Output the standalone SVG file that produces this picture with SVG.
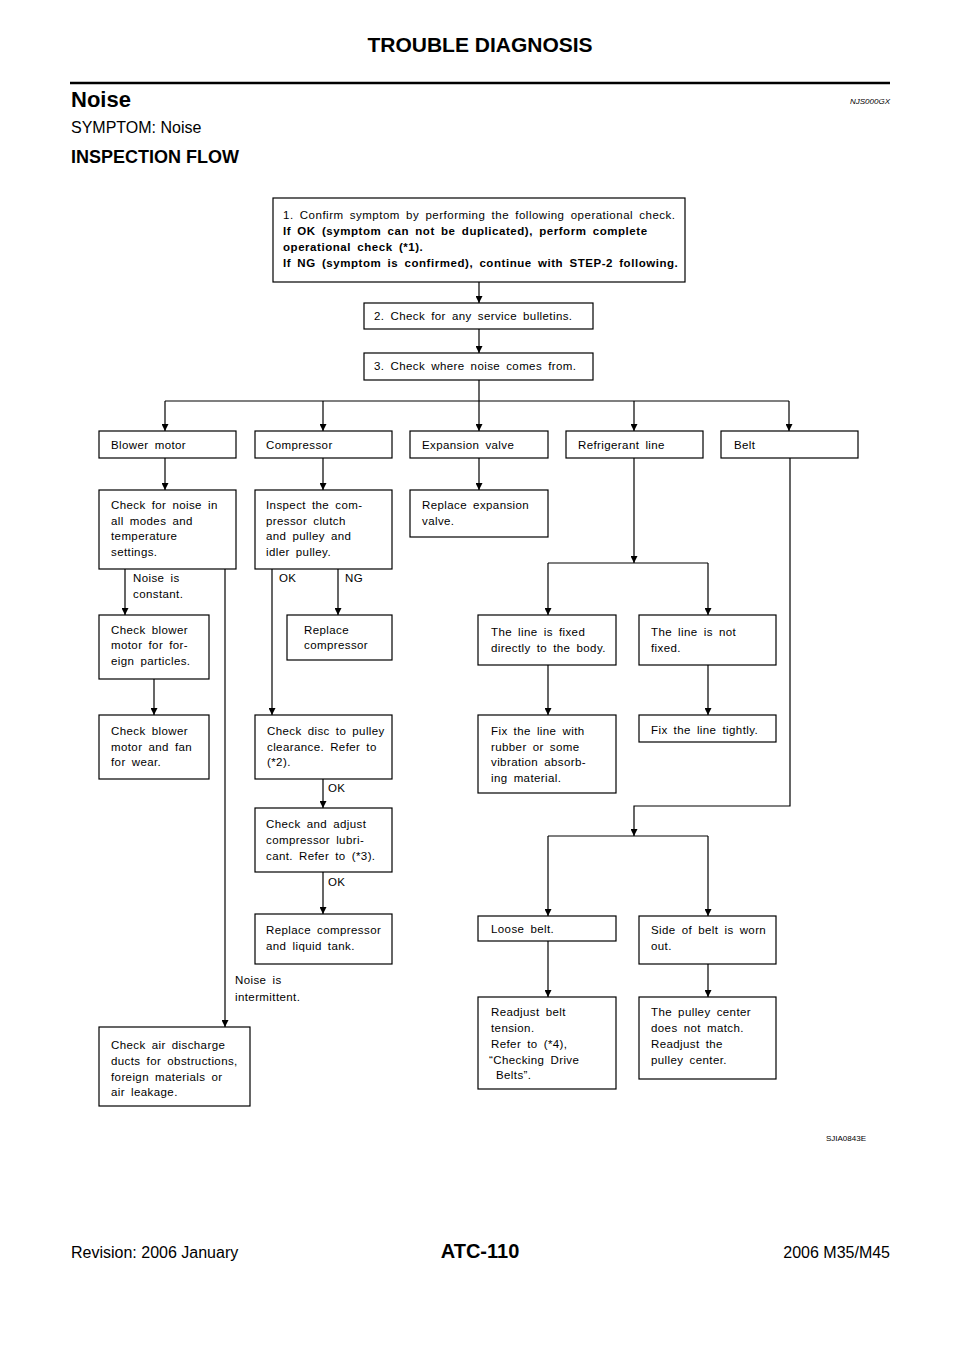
<svg xmlns="http://www.w3.org/2000/svg" width="960" height="1358" viewBox="0 0 960 1358">
<style>
text{font-family:"Liberation Sans",Arial,sans-serif;fill:#000}
.t{font-size:11.5px;letter-spacing:0.4px;word-spacing:2.5px}
.t1{font-size:11.5px;letter-spacing:0.5px;word-spacing:2.5px}
.tb{font-size:11.5px;letter-spacing:0.55px;word-spacing:2.5px;font-weight:bold}
.box{fill:#fff;stroke:#000;stroke-width:1.2}
.c{fill:none;stroke:#000;stroke-width:1.2}
.a{fill:none;stroke:#000;stroke-width:1.2;marker-end:url(#ah)}
</style>
<defs>
<marker id="ah" viewBox="0 0 8 8" refX="8" refY="4" markerWidth="7" markerHeight="7" markerUnits="userSpaceOnUse" orient="auto">
<path d="M0,0 L8,4 L0,8 z" fill="#000"/>
</marker>
</defs>
<rect width="960" height="1358" fill="#fff"/>

<g id="header">
<text x="480" y="52" font-size="21" font-weight="bold" text-anchor="middle">TROUBLE DIAGNOSIS</text>
<line x1="70" y1="83" x2="890" y2="83" stroke="#000" stroke-width="2.5"/>
<text x="71" y="107" font-size="22" font-weight="bold">Noise</text>
<text x="890" y="104" font-size="8" font-style="italic" text-anchor="end">NJS000GX</text>
<text x="71" y="133" font-size="16">SYMPTOM: Noise</text>
<text x="71" y="163" font-size="18" font-weight="bold">INSPECTION FLOW</text>
</g>

<g id="connectors">
<path class="a" d="M479,282V303"/>
<path class="a" d="M479,329V353"/>
<path class="c" d="M165,401H789"/>
<path class="a" d="M165,401V431"/>
<path class="a" d="M323,401V431"/>
<path class="a" d="M479,380V431"/>
<path class="a" d="M634,401V431"/>
<path class="a" d="M789,401V431"/>
<path class="a" d="M165,458V490"/>
<path class="a" d="M323,458V490"/>
<path class="a" d="M479,458V490"/>
<path class="a" d="M125,569V615"/>
<path class="a" d="M154,679V715"/>
<path class="a" d="M225,569V1027"/>
<path class="a" d="M272,569V715"/>
<path class="a" d="M338,569V615"/>
<path class="a" d="M323,779V808"/>
<path class="a" d="M323,872V914"/>
<path class="a" d="M634,458V563"/>
<path class="c" d="M548,563H708"/>
<path class="a" d="M548,563V615"/>
<path class="a" d="M708,563V615"/>
<path class="a" d="M548,665V715"/>
<path class="a" d="M708,665V715"/>
<path class="a" d="M790,458V806H634V836"/>
<path class="c" d="M548,836H708"/>
<path class="a" d="M548,836V916"/>
<path class="a" d="M708,836V916"/>
<path class="a" d="M548,941V997"/>
<path class="a" d="M708,964V997"/>
</g>

<g id="labels">
<text class="t" x="133" y="582">Noise is</text>
<text class="t" x="133" y="598">constant.</text>
<text class="t" x="279" y="582">OK</text>
<text class="t" x="345" y="582">NG</text>
<text class="t" x="328" y="792">OK</text>
<text class="t" x="328" y="886">OK</text>
<text class="t" x="235" y="984">Noise is</text>
<text class="t" x="235" y="1001">intermittent.</text>
</g>

<g id="n1">
<rect class="box" x="273" y="198" width="412" height="84"/>
<text class="t1" x="283" y="219">1. Confirm symptom by performing the following operational check.</text>
<text class="tb" x="283" y="235">If OK (symptom can not be duplicated), perform complete</text>
<text class="tb" x="283" y="251">operational check (*1).</text>
<text class="tb" x="283" y="267">If NG (symptom is confirmed), continue with STEP-2 following.</text>
</g>
<g id="n2">
<rect class="box" x="364" y="303" width="229" height="26"/>
<text class="t" x="374" y="320">2. Check for any service bulletins.</text>
</g>
<g id="n3">
<rect class="box" x="364" y="353" width="229" height="27"/>
<text class="t" x="374" y="370">3. Check where noise comes from.</text>
</g>

<g id="blower">
<rect class="box" x="99" y="431" width="137" height="27"/>
<text class="t" x="111" y="449">Blower motor</text>
</g>
<g id="compressor">
<rect class="box" x="255" y="431" width="137" height="27"/>
<text class="t" x="266" y="449">Compressor</text>
</g>
<g id="expansion">
<rect class="box" x="410" y="431" width="138" height="27"/>
<text class="t" x="422" y="449">Expansion valve</text>
</g>
<g id="refrigerant">
<rect class="box" x="566" y="431" width="137" height="27"/>
<text class="t" x="578" y="449">Refrigerant line</text>
</g>
<g id="belt">
<rect class="box" x="721" y="431" width="137" height="27"/>
<text class="t" x="734" y="449">Belt</text>
</g>

<g id="checknoise">
<rect class="box" x="99" y="490" width="137" height="79"/>
<text class="t" x="111" y="509">Check for noise in</text>
<text class="t" x="111" y="525">all modes and</text>
<text class="t" x="111" y="540">temperature</text>
<text class="t" x="111" y="556">settings.</text>
</g>
<g id="inspect">
<rect class="box" x="255" y="490" width="137" height="79"/>
<text class="t" x="266" y="509">Inspect the com-</text>
<text class="t" x="266" y="525">pressor clutch</text>
<text class="t" x="266" y="540">and pulley and</text>
<text class="t" x="266" y="556">idler pulley.</text>
</g>
<g id="replaceexp">
<rect class="box" x="410" y="490" width="138" height="47"/>
<text class="t" x="422" y="509">Replace expansion</text>
<text class="t" x="422" y="525">valve.</text>
</g>

<g id="blowerparticles">
<rect class="box" x="99" y="615" width="110" height="64"/>
<text class="t" x="111" y="634">Check blower</text>
<text class="t" x="111" y="649">motor for for-</text>
<text class="t" x="111" y="665">eign particles.</text>
</g>
<g id="replacecomp">
<rect class="box" x="287" y="615" width="105" height="45"/>
<text class="t" x="304" y="634">Replace</text>
<text class="t" x="304" y="649">compressor</text>
</g>
<g id="linefixed">
<rect class="box" x="478" y="615" width="138" height="50"/>
<text class="t" x="491" y="636">The line is fixed</text>
<text class="t" x="491" y="652">directly to the body.</text>
</g>
<g id="linenotfixed">
<rect class="box" x="639" y="615" width="137" height="50"/>
<text class="t" x="651" y="636">The line is not</text>
<text class="t" x="651" y="652">fixed.</text>
</g>

<g id="blowerwear">
<rect class="box" x="99" y="715" width="110" height="64"/>
<text class="t" x="111" y="735">Check blower</text>
<text class="t" x="111" y="751">motor and fan</text>
<text class="t" x="111" y="766">for wear.</text>
</g>
<g id="checkdisc">
<rect class="box" x="255" y="715" width="137" height="64"/>
<text class="t" x="267" y="735">Check disc to pulley</text>
<text class="t" x="267" y="751">clearance. Refer to</text>
<text class="t" x="267" y="766">(*2).</text>
</g>
<g id="fixrubber">
<rect class="box" x="478" y="715" width="138" height="78"/>
<text class="t" x="491" y="735">Fix the line with</text>
<text class="t" x="491" y="751">rubber or some</text>
<text class="t" x="491" y="766">vibration absorb-</text>
<text class="t" x="491" y="782">ing material.</text>
</g>
<g id="fixtight">
<rect class="box" x="639" y="715" width="137" height="27"/>
<text class="t" x="651" y="734">Fix the line tightly.</text>
</g>

<g id="lubricant">
<rect class="box" x="255" y="808" width="137" height="64"/>
<text class="t" x="266" y="828">Check and adjust</text>
<text class="t" x="266" y="844">compressor lubri-</text>
<text class="t" x="266" y="860">cant. Refer to (*3).</text>
</g>
<g id="replacetank">
<rect class="box" x="255" y="914" width="137" height="50"/>
<text class="t" x="266" y="934">Replace compressor</text>
<text class="t" x="266" y="950">and liquid tank.</text>
</g>
<g id="loosebelt">
<rect class="box" x="478" y="916" width="138" height="25"/>
<text class="t" x="491" y="933">Loose belt.</text>
</g>
<g id="sidebelt">
<rect class="box" x="639" y="916" width="137" height="48"/>
<text class="t" x="651" y="934">Side of belt is worn</text>
<text class="t" x="651" y="950">out.</text>
</g>

<g id="readjust">
<rect class="box" x="478" y="997" width="138" height="92"/>
<text class="t" x="491" y="1016">Readjust belt</text>
<text class="t" x="491" y="1032">tension.</text>
<text class="t" x="491" y="1048">Refer to (*4),</text>
<text class="t" x="489" y="1064">“Checking Drive</text>
<text class="t" x="496" y="1079">Belts”.</text>
</g>
<g id="pulleycenter">
<rect class="box" x="639" y="997" width="137" height="82"/>
<text class="t" x="651" y="1016">The pulley center</text>
<text class="t" x="651" y="1032">does not match.</text>
<text class="t" x="651" y="1048">Readjust the</text>
<text class="t" x="651" y="1064">pulley center.</text>
</g>
<g id="airdischarge">
<rect class="box" x="99" y="1027" width="151" height="79"/>
<text class="t" x="111" y="1049">Check air discharge</text>
<text class="t" x="111" y="1065">ducts for obstructions,</text>
<text class="t" x="111" y="1081">foreign materials or</text>
<text class="t" x="111" y="1096">air leakage.</text>
</g>

<g id="footer">
<text x="866" y="1141" font-size="8" text-anchor="end">SJIA0843E</text>
<text x="71" y="1258" font-size="16">Revision: 2006 January</text>
<text x="480" y="1258" font-size="20" font-weight="bold" text-anchor="middle">ATC-110</text>
<text x="890" y="1258" font-size="16" text-anchor="end">2006 M35/M45</text>
</g>
</svg>
